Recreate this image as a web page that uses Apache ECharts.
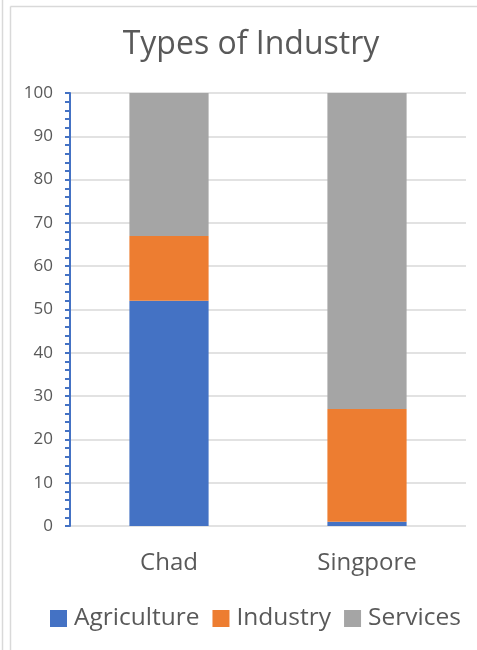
<!DOCTYPE html>
<html>
<head>
<meta charset="utf-8">
<script src="https://cdn.jsdelivr.net/npm/echarts@6/dist/echarts.min.js"></script>
<style>
  html, body { margin: 0; padding: 0; background: #fff; }
  #chart { width: 477px; height: 650px; }
</style>
</head>
<body>
<div id="chart"></div>
<script>
// Share of the economy by sector, stacked per country
const countries = ['Chad', 'Singpore'];
const agriculture = [52, 1];
const industry = [15, 26];
const services = [33, 73];
const yTicks = [0, 10, 20, 30, 40, 50, 60, 70, 80, 90, 100];

const FONT = '"Open Sans", sans-serif';
const TEXT = '#595959';

const chart = echarts.init(document.getElementById('chart'), null, { renderer: 'canvas' });

function bar(name, data, color) {
  return {
    name: name,
    type: 'bar',
    stack: 'total',
    barWidth: '40%',
    data: data,
    itemStyle: { color: color },
    emphasis: { disabled: true }
  };
}

chart.setOption({
  animation: false,
  textStyle: { fontFamily: FONT },
  title: {
    text: 'Types of Industry',
    left: 246,
    textAlign: 'center',
    top: 24,
    textStyle: { fontFamily: FONT, fontSize: 32, fontWeight: 'normal', color: TEXT }
  },
  legend: {
    top: 601,
    left: 45,
    width: 440,
    icon: 'rect',
    itemWidth: 17,
    itemHeight: 17,
    itemGap: 13,
    textStyle: { fontFamily: FONT, fontSize: 24.5, color: TEXT, padding: [0, 0, 0, 2] },
    data: ['Agriculture', 'Industry', 'Services']
  },
  grid: { left: 70, right: 11, top: 93, bottom: 124, containLabel: false },
  xAxis: {
    type: 'category',
    data: countries,
    axisLine: { show: false },
    axisTick: { show: false },
    axisLabel: { fontFamily: FONT, fontSize: 24, color: TEXT, margin: 25 }
  },
  yAxis: {
    type: 'value',
    min: yTicks[0],
    max: yTicks[yTicks.length - 1],
    interval: 10,
    axisLine: { show: true, lineStyle: { color: '#4472c4', width: 2 } },
    axisTick: { show: true, length: 5, lineStyle: { color: '#4472c4', width: 2 } },
    minorTick: { show: true, splitNumber: 5, length: 5, lineStyle: { color: '#4472c4', width: 2 } },
    axisLabel: { fontFamily: FONT, fontSize: 17, color: TEXT, margin: 17 },
    splitLine: { show: true, lineStyle: { color: '#d9d9d9', width: 1.5 } }
  },
  series: [
    bar('Agriculture', agriculture, '#4472c4'),
    bar('Industry', industry, '#ed7d31'),
    bar('Services', services, '#a5a5a5')
  ],
  graphic: [
    { type: 'line', silent: true, shape: { x1: 2.5, y1: 0, x2: 2.5, y2: 650 }, style: { stroke: '#d9d9d9', lineWidth: 1.5 } },
    { type: 'line', silent: true, shape: { x1: 10.5, y1: 6.5, x2: 10.5, y2: 650 }, style: { stroke: '#d9d9d9', lineWidth: 1.5 } },
    { type: 'line', silent: true, shape: { x1: 10.5, y1: 6.5, x2: 477, y2: 6.5 }, style: { stroke: '#d9d9d9', lineWidth: 1.5 } }
  ]
});
</script>
</body>
</html>
